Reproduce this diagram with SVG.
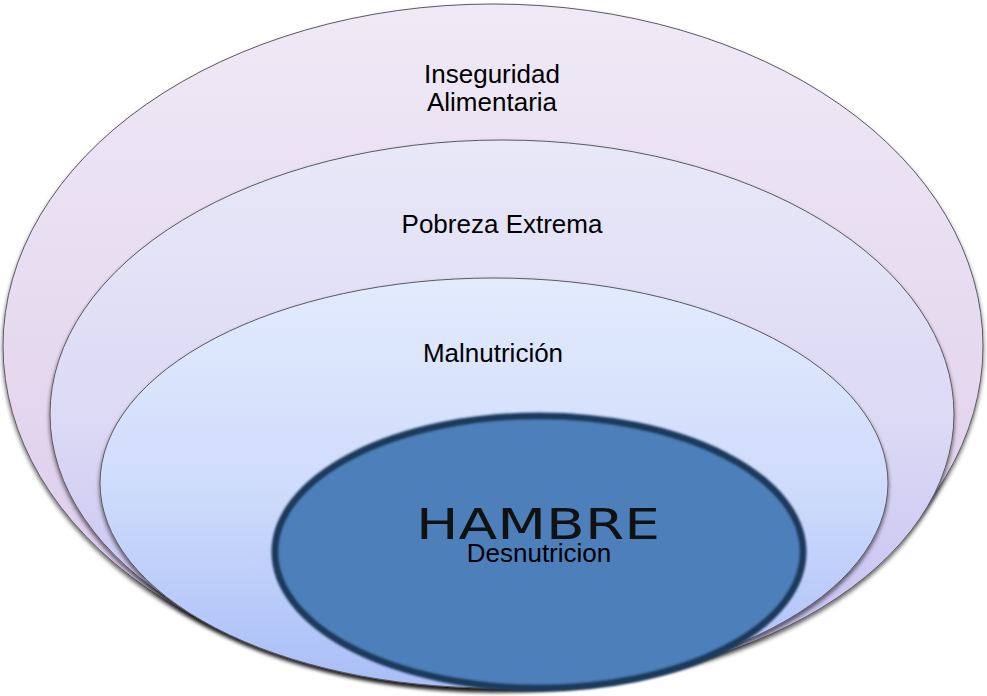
<svg xmlns="http://www.w3.org/2000/svg" width="987" height="696" viewBox="0 0 987 696">
<defs>
<linearGradient id="g1" x1="0" y1="0" x2="0" y2="1"><stop offset="0" stop-color="#efeaf6"/><stop offset="0.6" stop-color="#e4d6ee"/><stop offset="1" stop-color="#d8c6ea"/></linearGradient>
<linearGradient id="g2" x1="0" y1="0" x2="0" y2="1"><stop offset="0" stop-color="#e9e8f8"/><stop offset="0.5" stop-color="#dcdaf5"/><stop offset="1" stop-color="#c4bcf0"/></linearGradient>
<linearGradient id="g3" x1="0" y1="0" x2="0" y2="1"><stop offset="0" stop-color="#e3ebfd"/><stop offset="0.5" stop-color="#cfdcfb"/><stop offset="1" stop-color="#a9bef8"/></linearGradient>
<filter id="sh" x="-5%" y="-5%" width="110%" height="115%"><feGaussianBlur in="SourceAlpha" stdDeviation="2"/><feOffset dx="0" dy="3"/><feComponentTransfer><feFuncA type="linear" slope="0.6"/></feComponentTransfer><feMerge><feMergeNode/><feMergeNode in="SourceGraphic"/></feMerge></filter>
<filter id="blur" x="-5%" y="-5%" width="110%" height="110%"><feGaussianBlur stdDeviation="1.3"/></filter>
</defs>
<style>
.ring{stroke:#5a5a60;stroke-width:1}
.lbl{font-family:"Liberation Sans",Arial,sans-serif;font-size:26px;fill:#000;text-anchor:middle}
</style>
<g id="inseguridad">
<ellipse class="ring" cx="493" cy="346" rx="490" ry="342" fill="url(#g1)" filter="url(#sh)"/>
<text class="lbl" x="492" y="83">Inseguridad</text>
<text class="lbl" x="492" y="111">Alimentaria</text>
</g>
<g id="pobreza">
<ellipse class="ring" cx="502" cy="414" rx="452" ry="274" fill="url(#g2)" filter="url(#sh)"/>
<text class="lbl" x="502" y="233">Pobreza Extrema</text>
</g>
<g id="malnutricion">
<ellipse class="ring" cx="494" cy="483" rx="394" ry="205" fill="url(#g3)" filter="url(#sh)"/>
<text class="lbl" x="493" y="362">Malnutrición</text>
</g>
<g id="hambre">
<ellipse cx="539" cy="552" rx="264" ry="136" fill="#4d7fbb" stroke="#1c3a5c" stroke-width="7" filter="url(#blur)"/>
<text x="416" y="539" font-family="DejaVu Sans,Liberation Sans,sans-serif" font-size="42" fill="#111" textLength="244" lengthAdjust="spacingAndGlyphs">HAMBRE</text>
<text class="lbl" x="539" y="562">Desnutricion</text>
</g>
<g id="connectors"/>
</svg>
